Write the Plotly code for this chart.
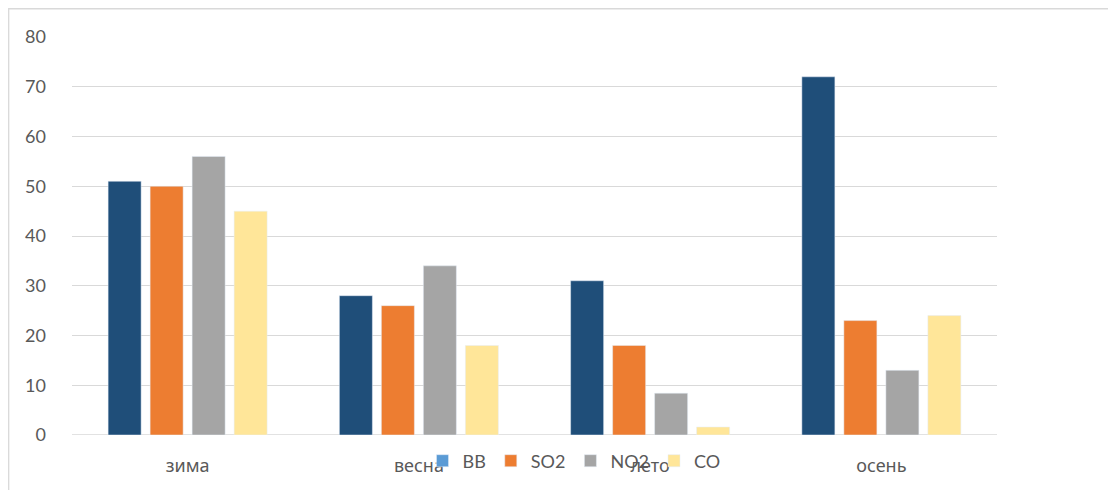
import plotly.graph_objects as go

categories = ["зима", "весна", "лето", "осень"]
series_names = ["BB", "SO2", "NO2", "CO"]
bb = [51, 28, 31, 72]
so2 = [50, 26, 18, 23]
no2 = [56, 34, 8.4, 13]
co = [45, 18, 1.6, 24]
y_ticks = [0, 10, 20, 30, 40, 50, 60, 70, 80]

bar_colors = ["#1F4E79", "#ED7D31", "#A5A5A5", "#FFE699"]
legend_colors = ["#5B9BD5", "#ED7D31", "#A5A5A5", "#FFE699"]
font_family = "Lato, Open Sans, sans-serif"
cyr_family = "Noto Sans, Open Sans, sans-serif"
txt = "#595959"

fig = go.Figure()
# legend-only swatch for BB (light blue) sharing BB's slot
fig.add_trace(go.Bar(x=categories, y=[None] * 4, name="BB", marker_color=legend_colors[0],
                     offsetgroup="g0", showlegend=True))
values = [bb, so2, no2, co]
for i, (nm, vals) in enumerate(zip(series_names, values)):
    fig.add_trace(go.Bar(x=categories, y=vals, name=nm, marker_color=bar_colors[i],
                         offsetgroup=f"g{i}", showlegend=(i != 0)))

W, H = 1108, 482
L, R, T, B = 64, 119, 29, 54
pw = W - L - R
ph = H - T - B

fig.update_layout(
    width=W, height=H,
    margin=dict(l=L, r=R, t=T, b=B),
    paper_bgcolor="white", plot_bgcolor="white",
    barmode="group", bargap=0.2735, bargroupgap=0.214,
    font=dict(family=font_family, size=18, color=txt),
    showlegend=True,
    legend=dict(orientation="h", x=(566 - L) / pw, xanchor="center",
                y=(ph + T - 453) / ph, yanchor="middle",
                bgcolor="rgba(0,0,0,0)", font=dict(size=18, color=txt),
                traceorder="normal"),
    xaxis=dict(showgrid=False, showline=False, ticks="", ticklabelstandoff=18,
               tickfont=dict(family=cyr_family, size=18, color=txt)),
    yaxis=dict(range=[0, 80], tickvals=y_ticks, showgrid=True, gridcolor="#D9D9D9",
               gridwidth=1.3, zeroline=False, showline=False, ticks="",
               ticklabelstandoff=25, tickfont=dict(size=18, color=txt)),
    shapes=[dict(type="rect", xref="paper", yref="paper",
                 x0=(0.7 - L) / pw, x1=(W + 20 - L) / pw,
                 y0=(T + ph - (H + 20)) / ph, y1=(T + ph - 0.7) / ph,
                 line=dict(color="#D9D9D9", width=1.3), fillcolor="rgba(0,0,0,0)",
                 layer="below")],
)
fig.add_shape(type="line", xref="paper", yref="y", x0=0, x1=1, y0=0, y1=0,
              line=dict(color="#D9D9D9", width=1.3), layer="below")

fig.write_html("out.html")
